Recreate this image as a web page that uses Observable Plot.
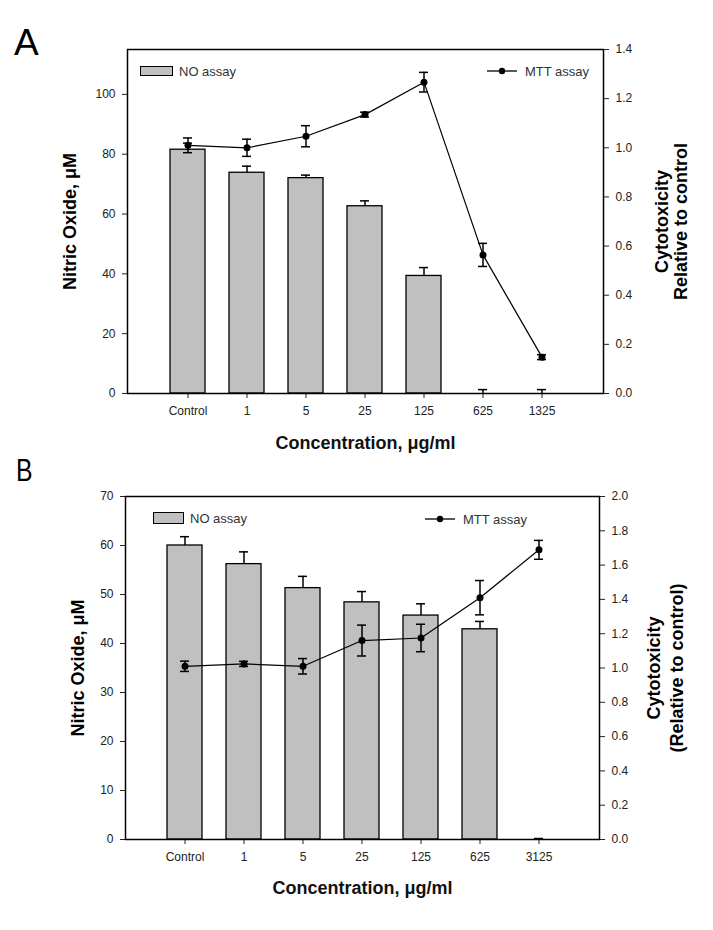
<!DOCTYPE html>
<html><head><meta charset="utf-8">
<script src="https://cdn.jsdelivr.net/npm/d3@7"></script>
<script src="https://cdn.jsdelivr.net/npm/@observablehq/plot@0.6"></script>
<style>
body{margin:0;background:#fff;font-family:"Liberation Sans",Arial,sans-serif;}
#wrap{position:relative;width:713px;height:930px;overflow:hidden;}
.layer{position:absolute;left:0;}
.letter{position:absolute;color:#000;line-height:1;transform-origin:left top;}
.leg{position:absolute;display:flex;align-items:center;font-size:13px;color:#333;white-space:nowrap;}
</style></head><body><div id="wrap"></div>
<script>
// ---------- Data: panel A ----------
const categoriesA = ["Control","1","5","25","125","625","1325"];
const noA      = [81.5, 73.8, 72.0, 62.6, 39.3, 0, 0];
const noErrA   = [2.2, 2.2, 1.0, 1.8, 2.8, 1.3, 1.3];
const mttA     = [1.01, 1.0, 1.047, 1.135, 1.267, 0.564, 0.148];
const mttErrA  = [0.03, 0.035, 0.043, 0.01, 0.04, 0.047, 0.01];
const yTicksLeftA  = [0, 20, 40, 60, 80, 100];
const yTicksRightA = [0, 0.2, 0.4, 0.6, 0.8, 1.0, 1.2, 1.4];

// ---------- Data: panel B ----------
const categoriesB = ["Control","1","5","25","125","625","3125"];
const noB      = [60.0, 56.2, 51.3, 48.4, 45.7, 42.9, 0];
const noErrB   = [1.8, 2.5, 2.4, 2.2, 2.4, 1.6, 0.2];
const mttB     = [1.01, 1.024, 1.01, 1.16, 1.175, 1.41, 1.689];
const mttErrB  = [0.03, 0.015, 0.045, 0.09, 0.08, 0.1, 0.055];
const yTicksLeftB  = [0, 10, 20, 30, 40, 50, 60, 70];
const yTicksRightB = [0, 0.2, 0.4, 0.6, 0.8, 1.0, 1.2, 1.4, 1.6, 1.8, 2.0];

const xLabel = "Concentration, μg/ml";
const yLabelLeft = "Nitric Oxide, μM";
const legendNO = "NO assay";
const legendMTT = "MTT assay";

const FONT = "Liberation Sans, Arial, sans-serif";
const wrap = document.getElementById("wrap");

function panel(cfg) {
  const rows = cfg.cats.map((c, i) => ({cat: c, no: cfg.no[i], noErr: cfg.noErr[i], mtt: cfg.mtt[i], mttErr: cfg.mttErr[i]}));
  const common = {
    width: 713, height: cfg.height,
    marginLeft: cfg.ml, marginRight: cfg.mr, marginTop: cfg.mt, marginBottom: cfg.mb,
    style: {background: "transparent", fontFamily: FONT, overflow: "visible"},
    x: {type: "band", domain: cfg.cats, paddingInner: 0.4, paddingOuter: 0.69}
  };
  const bars = Plot.plot({
    ...common,
    x: {...common.x, label: null},
    y: {domain: cfg.yDomL},
    marks: [
      Plot.barY(rows, {x: "cat", y: "no", fill: "#c0c0c0", stroke: "#000", strokeWidth: 1.3}),
      Plot.ruleX(rows, {x: "cat", y1: "no", y2: d => d.no + d.noErr, stroke: "#000", strokeWidth: 1.5}),
      Plot.tickY(rows, {x: "cat", y: d => d.no + d.noErr, stroke: "#000", strokeWidth: 1.5, insetLeft: 13, insetRight: 13}),
      Plot.axisX({tickSize: 5, tickPadding: 8, fontSize: 12, label: null, color: "#222"}),
      Plot.axisY({ticks: cfg.yTicksL, tickSize: 5, tickPadding: 7, fontSize: 12, label: null, color: "#222"}),
      Plot.frame({stroke: "#000", strokeWidth: 1.5}),
      Plot.text([yLabelLeft], {frameAnchor: "left", dx: cfg.leftLabelDx, rotate: -90, fontSize: 18, fontWeight: "bold", textAnchor: "middle", lineAnchor: "middle", fill: "#000"}),
      Plot.text([xLabel], {frameAnchor: "bottom", dy: cfg.xLabelDy, fontSize: 18, fontWeight: "bold", textAnchor: "middle", lineAnchor: "middle", fill: "#111"})
    ]
  });
  const line = Plot.plot({
    ...common,
    x: {...common.x, axis: null},
    y: {domain: cfg.yDomR},
    marks: [
      Plot.ruleX(rows, {x: "cat", y1: d => d.mtt - d.mttErr, y2: d => d.mtt + d.mttErr, stroke: "#000", strokeWidth: 1.5}),
      Plot.tickY(rows, {x: "cat", y: d => d.mtt - d.mttErr, stroke: "#000", strokeWidth: 1.5, insetLeft: 13, insetRight: 13}),
      Plot.tickY(rows, {x: "cat", y: d => d.mtt + d.mttErr, stroke: "#000", strokeWidth: 1.5, insetLeft: 13, insetRight: 13}),
      Plot.line(rows, {x: "cat", y: "mtt", stroke: "#000", strokeWidth: 1.2}),
      Plot.dot(rows, {x: "cat", y: "mtt", r: 3.5, fill: "#000", stroke: "none"}),
      Plot.axisY({anchor: "right", ticks: cfg.yTicksR, tickFormat: d3.format(".1f"), tickSize: 5, tickPadding: 7, fontSize: 12, label: null, color: "#222"}),
      Plot.text([cfg.rightLabel], {frameAnchor: "right", dx: cfg.rightLabelDx, rotate: -90, fontSize: 18, fontWeight: "bold", textAnchor: "middle", lineAnchor: "middle", lineHeight: cfg.rightLineHeight, fill: "#000"})
    ]
  });
  for (const svg of [bars, line]) {
    svg.classList.add("layer");
    svg.style.top = cfg.top + "px";
    wrap.appendChild(svg);
  }
}

panel({cats: categoriesA, no: noA, noErr: noErrA, mtt: mttA, mttErr: mttErrA,
  top: 0, height: 460, ml: 127, mr: 110, mt: 49, mb: 67,
  yDomL: [0, 115], yTicksL: yTicksLeftA, yDomR: [0, 1.4], yTicksR: yTicksRightA,
  leftLabelDx: -57, rightLabelDx: 68, rightLineHeight: 1.08, xLabelDy: 50,
  rightLabel: "Cytotoxicity\nRelative to control"});

panel({cats: categoriesB, no: noB, noErr: noErrB, mtt: mttB, mttErr: mttErrB,
  top: 460, height: 470, ml: 125, mr: 114, mt: 36, mb: 91,
  yDomL: [0, 70], yTicksL: yTicksLeftB, yDomR: [0, 2.0], yTicksR: yTicksRightB,
  leftLabelDx: -47, rightLabelDx: 65, rightLineHeight: 1.25, xLabelDy: 49,
  rightLabel: "Cytotoxicity\n(Relative to control)"});

// Panel letters and legends
function addDiv(cls, html, left, top, extra) {
  const d = document.createElement("div");
  d.className = cls; d.innerHTML = html;
  d.style.left = left + "px"; d.style.top = top + "px";
  if (extra) Object.assign(d.style, extra);
  wrap.appendChild(d);
  return d;
}
addDiv("letter", "A", 14, 24, {fontSize: "37px"});
addDiv("letter", "B", 16, 455, {fontSize: "31px", transform: "scaleX(0.8)"});

const boxLeg = (w, h) => `<span style="display:inline-block;width:${w}px;height:${h}px;background:#c0c0c0;border:1.3px solid #000;box-sizing:border-box;margin-right:6px"></span>`;
const lineLeg = `<svg width="30" height="10" style="margin-right:8px"><line x1="0" x2="30" y1="5" y2="5" stroke="#000" stroke-width="1.3"/><circle cx="15" cy="5" r="3.2" fill="#000"/></svg>`;
addDiv("leg", boxLeg(33, 10) + legendNO, 140, 61, {height: "20px"});
addDiv("leg", lineLeg + legendMTT, 487, 61, {height: "20px"});
addDiv("leg", boxLeg(31, 12) + legendNO, 153, 508, {height: "20px"});
addDiv("leg", lineLeg + legendMTT, 425, 509, {height: "20px"});
</script>
</body></html>
